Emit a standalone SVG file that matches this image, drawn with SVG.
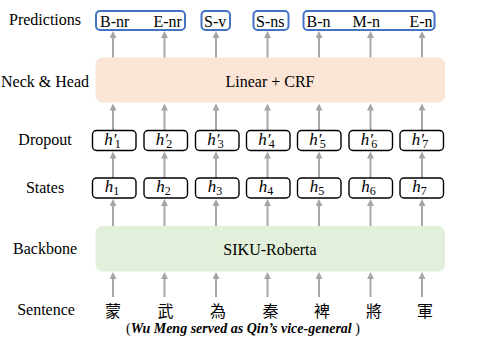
<svg xmlns="http://www.w3.org/2000/svg" width="479" height="340" viewBox="0 0 479 340">
<style>
.lbl{font-family:"Liberation Serif","Times New Roman",serif;font-size:16px;fill:#000;text-anchor:middle}
.pt{font-family:"Liberation Serif","Times New Roman",serif;font-size:16px;fill:#000}
.pbox{fill:#fff;stroke:#4472c4;stroke-width:2}
.hbox{fill:#fff;stroke:#000;stroke-width:1.4}
.ht{font-family:"Liberation Serif","Times New Roman",serif;font-style:italic;font-size:17px;fill:#000;text-anchor:middle}
.sub{font-size:12px;font-style:normal}
.cjk{font-family:"Noto Sans CJK TC","Noto Sans CJK SC",sans-serif;font-size:16px;fill:#000;text-anchor:middle}
.arr{stroke:#a6a6a6;stroke-width:2;fill:none;marker-end:url(#ah)}
</style>
<defs>
<marker id="ah" markerUnits="userSpaceOnUse" markerWidth="8" markerHeight="8" refX="1" refY="3.5" orient="auto">
<path d="M0,0 L7,3.5 L0,7 z" fill="#a6a6a6"/>
</marker>
</defs>

<g id="row-labels">
<text class="lbl" x="45" y="25">Predictions</text>
<text class="lbl" x="45" y="87">Neck &amp; Head</text>
<text class="lbl" x="45" y="145">Dropout</text>
<text class="lbl" x="45" y="193">States</text>
<text class="lbl" x="45" y="254">Backbone</text>
<text class="lbl" x="46" y="315">Sentence</text>
</g>

<g id="connectors">
<line class="arr" x1="113" y1="297" x2="113" y2="278"/>
<line class="arr" x1="164.5" y1="297" x2="164.5" y2="278"/>
<line class="arr" x1="216" y1="297" x2="216" y2="278"/>
<line class="arr" x1="267.5" y1="297" x2="267.5" y2="278"/>
<line class="arr" x1="319" y1="297" x2="319" y2="278"/>
<line class="arr" x1="370.5" y1="297" x2="370.5" y2="278"/>
<line class="arr" x1="422" y1="297" x2="422" y2="278"/>

<line class="arr" x1="113" y1="226" x2="113" y2="205"/>
<line class="arr" x1="164.5" y1="226" x2="164.5" y2="205"/>
<line class="arr" x1="216" y1="226" x2="216" y2="205"/>
<line class="arr" x1="267.5" y1="226" x2="267.5" y2="205"/>
<line class="arr" x1="319" y1="226" x2="319" y2="205"/>
<line class="arr" x1="370.5" y1="226" x2="370.5" y2="205"/>
<line class="arr" x1="422" y1="226" x2="422" y2="205"/>

<line class="arr" x1="113" y1="178" x2="113" y2="157.5"/>
<line class="arr" x1="164.5" y1="178" x2="164.5" y2="157.5"/>
<line class="arr" x1="216" y1="178" x2="216" y2="157.5"/>
<line class="arr" x1="267.5" y1="178" x2="267.5" y2="157.5"/>
<line class="arr" x1="319" y1="178" x2="319" y2="157.5"/>
<line class="arr" x1="370.5" y1="178" x2="370.5" y2="157.5"/>
<line class="arr" x1="422" y1="178" x2="422" y2="157.5"/>

<line class="arr" x1="113" y1="130.5" x2="113" y2="109.5"/>
<line class="arr" x1="164.5" y1="130.5" x2="164.5" y2="109.5"/>
<line class="arr" x1="216" y1="130.5" x2="216" y2="109.5"/>
<line class="arr" x1="267.5" y1="130.5" x2="267.5" y2="109.5"/>
<line class="arr" x1="319" y1="130.5" x2="319" y2="109.5"/>
<line class="arr" x1="370.5" y1="130.5" x2="370.5" y2="109.5"/>
<line class="arr" x1="422" y1="130.5" x2="422" y2="109.5"/>

<line class="arr" x1="113" y1="57.5" x2="113" y2="37"/>
<line class="arr" x1="164.5" y1="57.5" x2="164.5" y2="37"/>
<line class="arr" x1="216" y1="57.5" x2="216" y2="37"/>
<line class="arr" x1="267.5" y1="57.5" x2="267.5" y2="37"/>
<line class="arr" x1="319" y1="57.5" x2="319" y2="37"/>
<line class="arr" x1="370.5" y1="57.5" x2="370.5" y2="37"/>
<line class="arr" x1="422" y1="57.5" x2="422" y2="37"/>
</g>

<g id="predictions">
<rect class="pbox" x="96" y="11" width="89" height="19" rx="4"/>
<rect class="pbox" x="201.5" y="11" width="28.5" height="19" rx="4"/>
<rect class="pbox" x="253.5" y="11" width="35" height="19" rx="4"/>
<rect class="pbox" x="303.5" y="11" width="131" height="19" rx="4"/>
<text class="pt" x="100" y="26.5">B-nr</text>
<text class="pt" x="153.5" y="26.5">E-nr</text>
<text class="pt" x="204" y="26.5">S-v</text>
<text class="pt" x="256" y="26.5">S-ns</text>
<text class="pt" x="306.5" y="26.5">B-n</text>
<text class="pt" x="352.5" y="26.5">M-n</text>
<text class="pt" x="409.5" y="26.5">E-n</text>
</g>

<g id="neck-head">
<rect x="95.5" y="57.5" width="349.5" height="45" rx="7" fill="#fbe5d6"/>
<text class="lbl" x="270" y="86.5">Linear + CRF</text>
</g>

<g id="dropout">
<rect class="hbox" x="92.5" y="130.5" width="43.5" height="20" rx="4"/>
<rect class="hbox" x="144" y="130.5" width="43.5" height="20" rx="4"/>
<rect class="hbox" x="195.5" y="130.5" width="43.5" height="20" rx="4"/>
<rect class="hbox" x="246.5" y="130.5" width="43.5" height="20" rx="4"/>
<rect class="hbox" x="297.5" y="130.5" width="43.5" height="20" rx="4"/>
<rect class="hbox" x="349" y="130.5" width="43.5" height="20" rx="4"/>
<rect class="hbox" x="400" y="130.5" width="43.5" height="20" rx="4"/>
<text class="ht" x="112.5" y="144.5">h′<tspan class="sub" dx="-1.5" dy="3">1</tspan></text>
<text class="ht" x="164" y="144.5">h′<tspan class="sub" dx="-1.5" dy="3">2</tspan></text>
<text class="ht" x="215.5" y="144.5">h′<tspan class="sub" dx="-1.5" dy="3">3</tspan></text>
<text class="ht" x="266.5" y="144.5">h′<tspan class="sub" dx="-1.5" dy="3">4</tspan></text>
<text class="ht" x="317.5" y="144.5">h′<tspan class="sub" dx="-1.5" dy="3">5</tspan></text>
<text class="ht" x="369" y="144.5">h′<tspan class="sub" dx="-1.5" dy="3">6</tspan></text>
<text class="ht" x="420" y="144.5">h′<tspan class="sub" dx="-1.5" dy="3">7</tspan></text>
</g>

<g id="states">
<rect class="hbox" x="92.5" y="178" width="43.5" height="20" rx="4"/>
<rect class="hbox" x="144" y="178" width="43.5" height="20" rx="4"/>
<rect class="hbox" x="195.5" y="178" width="43.5" height="20" rx="4"/>
<rect class="hbox" x="246.5" y="178" width="43.5" height="20" rx="4"/>
<rect class="hbox" x="297.5" y="178" width="43.5" height="20" rx="4"/>
<rect class="hbox" x="349" y="178" width="43.5" height="20" rx="4"/>
<rect class="hbox" x="400" y="178" width="43.5" height="20" rx="4"/>
<text class="ht" x="112" y="192">h<tspan class="sub" dy="3">1</tspan></text>
<text class="ht" x="163.5" y="192">h<tspan class="sub" dy="3">2</tspan></text>
<text class="ht" x="215" y="192">h<tspan class="sub" dy="3">3</tspan></text>
<text class="ht" x="266" y="192">h<tspan class="sub" dy="3">4</tspan></text>
<text class="ht" x="317" y="192">h<tspan class="sub" dy="3">5</tspan></text>
<text class="ht" x="368.5" y="192">h<tspan class="sub" dy="3">6</tspan></text>
<text class="ht" x="419.5" y="192">h<tspan class="sub" dy="3">7</tspan></text>
</g>

<g id="backbone">
<rect x="95.5" y="226" width="349.5" height="45.5" rx="7" fill="#e2efda"/>
<text class="lbl" x="270" y="255">SIKU-Roberta</text>
</g>

<g id="sentence">
<text class="cjk" x="113" y="317">蒙</text>
<text class="cjk" x="165.5" y="317">武</text>
<text class="cjk" x="218" y="317">為</text>
<text class="cjk" x="270.5" y="317">秦</text>
<text class="cjk" x="322" y="317">裨</text>
<text class="cjk" x="374" y="317">將</text>
<text class="cjk" x="425" y="317">軍</text>
<text class="lbl" x="243" y="333" style="font-size:14px">(<tspan style="font-weight:bold;font-style:italic">Wu Meng served as Qin’s vice-general</tspan> )</text>
</g>
</svg>
